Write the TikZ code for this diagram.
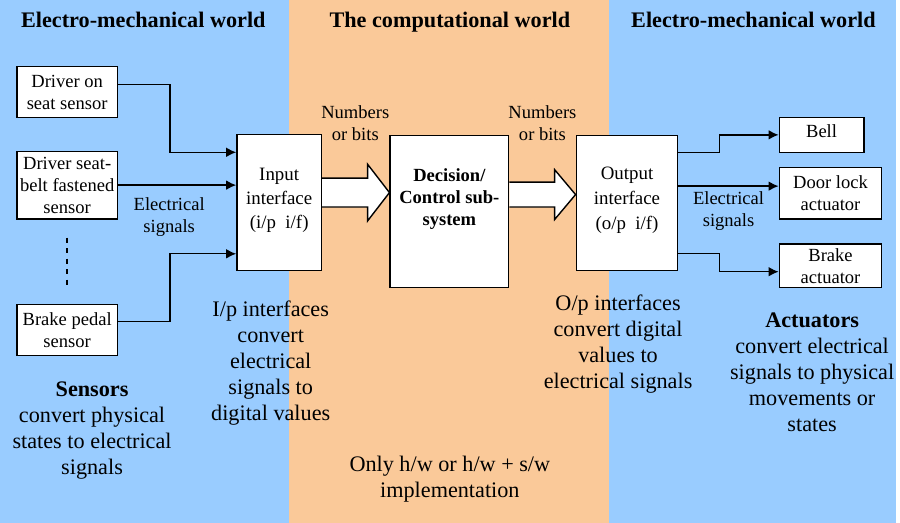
\documentclass[tikz,border=0pt]{standalone}
\usepackage{fontspec}
\setmainfont{Liberation Serif}
\usetikzlibrary{positioning,arrows.meta,calc}
\tikzset{>={Latex[length=5.7pt,width=5.5pt]}}
\definecolor{worldblue}{RGB}{153,204,255}
\definecolor{worldorange}{RGB}{250,201,153}

\begin{document}
\begin{tikzpicture}[x=0.02cm, y=-0.02cm, line width=0.8pt,
    box/.style={draw, fill=white, align=center, inner sep=0pt, line width=0.8pt,
      font=\fontsize{10.6}{12.5}\selectfont},
    sig/.style={align=center, font=\fontsize{10.6}{12.4}\selectfont},
    remark/.style={align=center, font=\fontsize{12.7}{14.9}\selectfont},
    worldtitle/.style={anchor=base, font=\fontsize{12.7}{14.9}\selectfont\bfseries},
    fatarrow/.style={draw, fill=white, line width=0.8pt, line join=miter}]

      % three worlds
      \fill[worldblue] (0,0) rectangle (290,525);
      \fill[worldorange] (290,0) rectangle (612,525);
      \fill[worldblue] (612,0) rectangle (900,525);
      \node[worldtitle] (emleft) at (144,28) {Electro-mechanical world};
      \node[worldtitle] (comp) at (452,28) {The computational world};
      \node[worldtitle] (emright) at (757,28) {Electro-mechanical world};

      % sensors
      \node[box, minimum width=2.02cm, minimum height=1.02cm] (seat) at (67.5,92.5) {Driver on\\seat sensor};
      \node[box, minimum width=2.02cm, minimum height=1.36cm] (belt) at (67.5,186) {Driver seat-\\belt fastened\\sensor};
      \node[box, minimum width=2.02cm, minimum height=1.02cm] (pedal) at (67.5,331.5) {Brake pedal\\sensor};

      % interfaces and controller
      \node[box, minimum width=1.70cm, minimum height=2.74cm, text depth=4.6pt,
        font=\fontsize{10.8}{13.6}\selectfont] (inp) at (280.5,203.5) {Input\\interface\\(i/p\ \ i/f)};
      \node[box, minimum width=2.38cm, minimum height=3.06cm, text depth=16.5pt,
        font=\fontsize{10.6}{12.5}\selectfont\bfseries] (dec) at (451.5,212.5) {Decision/\\Control sub-\\system};
      \node[box, minimum width=2.04cm, minimum height=2.72cm, text depth=5.5pt,
        font=\fontsize{10.8}{14.2}\selectfont] (out) at (630,204) {Output\\interface\\(o/p\ \ i/f)};

      % actuators
      \node[box, minimum width=1.70cm, minimum height=0.70cm, text depth=4pt] (bell) at (825.5,135.5) {Bell};
      \node[box, minimum width=2.06cm, minimum height=1.04cm] (door) at (834.5,194) {Door lock\\actuator};
      \node[box, minimum width=2.06cm, minimum height=0.88cm] (brake) at (834.5,267) {Brake\\actuator};

      \draw[->] ($(seat.east)+(0,-7.5)$) -- ++(52,0) |- ($(inp.west)+(0,-50.5)$);
      \draw[->] (belt.east) -- (inp.west |- belt.east);
      \draw[->] ($(pedal.east)+(0,-8.5)$) -- ++(52,0) |- ($(inp.west)+(0,51.5)$);
      \draw[dashed] ($(belt.south)+(0,18)$) -- ($(pedal.north)+(0,-16)$);

      \draw[->] ($(out.east)+(0,-51)$) -- ++(41,0) |- (bell.west);
      \draw[->] ($(out.east)+(0,-17)$) -- ($(door.west)+(0,-7)$);
      \draw[->] ($(out.east)+(0,51)$) -- ++(41,0) |- ($(brake.west)+(0,6)$);

      % hollow arrows
      \coordinate (a1) at ($(inp.east)+(0,-10)$);
      \coordinate (t1) at (dec.west |- a1);
      \draw[fatarrow] ($(a1)+(0,-14.5)$) -- ($(t1)+(-22,-14.5)$) -- ($(t1)+(-22,-28.5)$) -- (t1)
            -- ($(t1)+(-22,28.5)$) -- ($(t1)+(-22,14.5)$) -- ($(a1)+(0,14.5)$);
      \coordinate (a2) at ($(dec.east)+(0,-17)$);
      \coordinate (t2) at (out.west |- a2);
      \draw[fatarrow] ($(a2)+(0,-12.5)$) -- ($(t2)+(-21,-12.5)$) -- ($(t2)+(-21,-25)$) -- (t2)
            -- ($(t2)+(-21,25)$) -- ($(t2)+(-21,12.5)$) -- ($(a2)+(0,12.5)$);

      \node[sig] (bits1) at (357,124) {Numbers\\or bits};
      \node[sig] (bits2) at (545,124) {Numbers\\or bits};
      \node[sig] (elec1) at (170,218) {Electrical\\signals};
      \node[sig] (elec2) at (732,212) {Electrical\\signals};

      \node[remark] (ipnote) at (272,364.5) {I/p interfaces\\convert\\electrical\\signals to\\digital values};
      \node[remark] (opnote) at (621,346) {O/p interfaces\\convert digital\\values to\\electrical signals};
      \node[remark] (sensors) at (92.5,432.5) {\textbf{Sensors}\\convert physical\\states to electrical\\signals};
      \node[remark] (actuators) at (816,374) {\textbf{Actuators}\\convert electrical\\signals to physical\\movements or\\states};
      \node[remark] (hwonly) at (452,481) {Only h/w or h/w + s/w\\implementation};

\end{tikzpicture}
\end{document}
